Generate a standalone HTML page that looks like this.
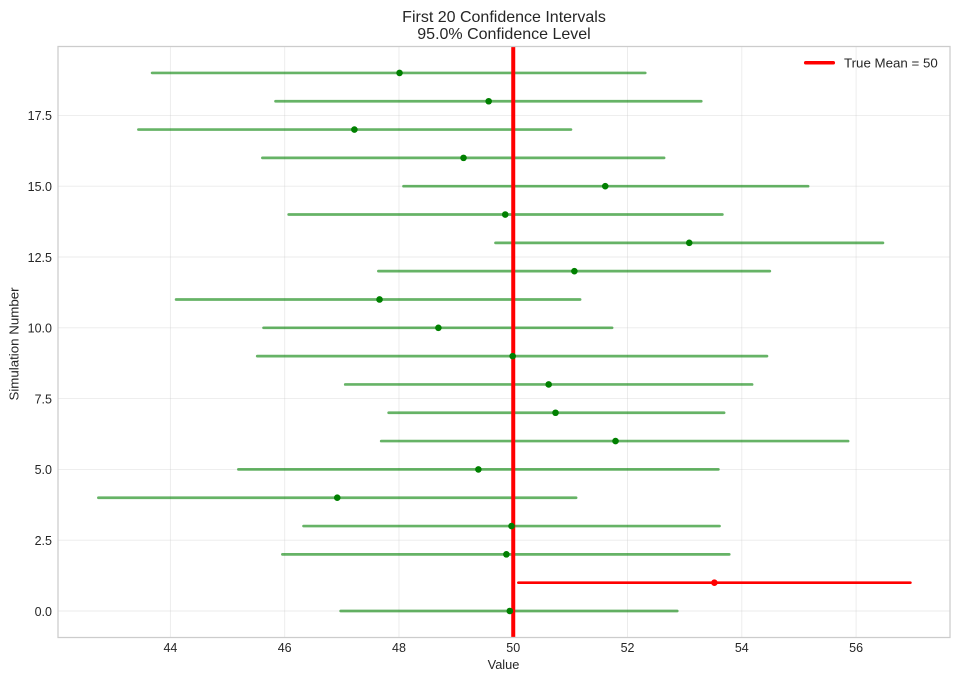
<!DOCTYPE html>
<html>
<head>
<meta charset="utf-8">
<title>First 20 Confidence Intervals</title>
<style>
html,body{margin:0;padding:0;background:#fff;width:959px;height:681px;overflow:hidden}
svg{display:block;font-family:"Liberation Sans",Arial,sans-serif}
text{fill:#262626}
</style>
</head>
<body>
<svg id="chart" width="959" height="681" viewBox="0 0 959 681" xmlns="http://www.w3.org/2000/svg">
  <rect x="0" y="0" width="959" height="681" fill="#fff"/>
  <g id="grid"></g>
  <g id="intervals"></g>
  <line id="mean-line" stroke="#ff0000" stroke-width="4"/>
  <g id="points"></g>
  <rect x="58" y="46.5" width="892" height="591" fill="none" stroke="#cccccc" stroke-width="1.25"/>
  <g id="xticks"></g>
  <g id="yticks"></g>
  <text x="504" y="22" font-size="16" text-anchor="middle">First 20 Confidence Intervals</text>
  <text x="504" y="39" font-size="16" text-anchor="middle">95.0% Confidence Level</text>
  <text x="503.500" y="669" font-size="12.8" text-anchor="middle">Value</text>
  <text transform="translate(18.500 344) rotate(-90)" font-size="13.3" text-anchor="middle">Simulation Number</text>
  <g>
    <line x1="805.700" y1="62.700" x2="833.300" y2="62.700" stroke="#ff0000" stroke-width="3.5" stroke-linecap="round"/>
    <text x="844" y="67.500" font-size="13.300">True Mean = 50</text>
  </g>
</svg>
<script>
const lowerBounds = [46.98, 50.09, 45.96, 46.33, 42.74, 45.19, 47.69, 47.82, 47.06, 45.52, 45.63, 44.10, 47.64, 49.69, 46.07, 48.08, 45.61, 43.44, 45.84, 43.68];
const sampleMeans = [49.94, 53.52, 49.88, 49.97, 46.92, 49.39, 51.79, 50.74, 50.62, 49.99, 48.69, 47.66, 51.07, 53.08, 49.86, 51.61, 49.13, 47.22, 49.57, 48.01];
const upperBounds = [52.87, 56.95, 53.78, 53.61, 51.10, 53.59, 55.86, 53.69, 54.18, 54.44, 51.73, 51.17, 54.49, 56.47, 53.66, 55.16, 52.64, 51.01, 53.29, 52.31];
const trueMean = [50];
const xTickValues = [44, 46, 48, 50, 52, 54, 56];
const yTickValues = [0, 2.5, 5, 7.5, 10, 12.5, 15, 17.5];
const yTickLabels = ['0.0', '2.5', '5.0', '7.5', '10.0', '12.5', '15.0', '17.5'];

const SVG_NS = 'http://www.w3.org/2000/svg';
function xScale(v) { return 170.4 + (v - 44) * 57.14; }
function yScale(v) { return 611.0 - v * 28.32; }
function make(tag, attrs, parent) {
  const el = document.createElementNS(SVG_NS, tag);
  for (const k in attrs) el.setAttribute(k, attrs[k]);
  parent.appendChild(el);
  return el;
}
const grid = document.getElementById('grid');
const xticks = document.getElementById('xticks');
const yticks = document.getElementById('yticks');
const intervals = document.getElementById('intervals');
const points = document.getElementById('points');

xTickValues.forEach(function (t) {
  const g = make('line', { x1: xScale(t), x2: xScale(t), y1: 46.5, y2: 637.5, stroke: '#cccccc', 'stroke-opacity': 0.4, 'stroke-width': 0.9 }, grid);
  
  
  const l = make('text', { x: xScale(t), y: 652, 'font-size': 12.5, 'text-anchor': 'middle' }, xticks);
  l.textContent = String(t);
  
  
});
yTickValues.forEach(function (t, i) {
  const g = make('line', { x1: 58, x2: 950, y1: yScale(t), y2: yScale(t), stroke: '#cccccc', 'stroke-opacity': 0.4, 'stroke-width': 0.9 }, grid);
  
  
  const l = make('text', { x: 52, y: yScale(t) + 4.8, 'font-size': 12.5, 'text-anchor': 'end' }, yticks);
  l.textContent = yTickLabels[i];
  
  
});
sampleMeans.forEach(function (m, i) {
  const missed = lowerBounds[i] > trueMean[0] || upperBounds[i] < trueMean[0];
  const line = make('line', {
    x1: xScale(lowerBounds[i]), x2: xScale(upperBounds[i]), y1: yScale(i), y2: yScale(i),
    stroke: missed ? '#ff0000' : '#008000', 'stroke-opacity': missed ? 1 : 0.6,
    'stroke-width': 2.7, 'stroke-linecap': 'round'
  }, intervals);
  
  
  const dot = make('circle', { cx: xScale(m), cy: yScale(i), r: 3.3, fill: missed ? '#ff0000' : '#008000' }, points);
  
  
});
const meanLine = document.getElementById('mean-line');
meanLine.setAttribute('x1', xScale(trueMean[0]));
meanLine.setAttribute('x2', xScale(trueMean[0]));
meanLine.setAttribute('y1', 46.5);
meanLine.setAttribute('y2', 637.5);
</script>
</body>
</html>
